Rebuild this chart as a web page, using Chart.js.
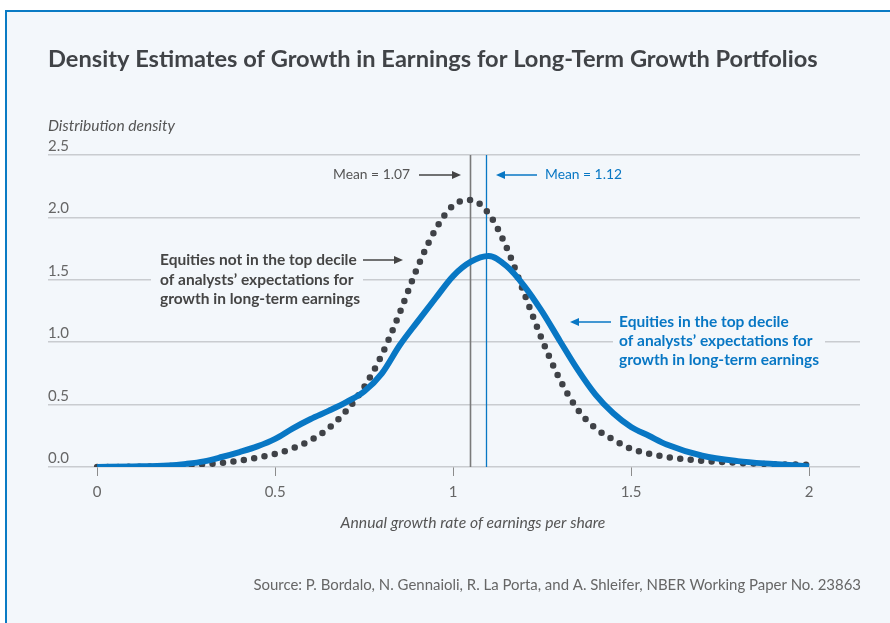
<!DOCTYPE html>
<html>
<head>
<meta charset="utf-8">
<script src="https://cdn.jsdelivr.net/npm/chart.js@4.4.0/dist/chart.umd.min.js"></script>
<style>
  body { margin: 0; background: #ffffff; overflow: hidden; }
  #panel {
    position: absolute; left: 5px; top: 10px; width: 900px; height: 700px;
    background: #f3f7fb; border-top: 2px solid #0a7bc4; border-left: 2px solid #0a7bc4;
  }
  #miGrafico { position: absolute; left: 0; top: 0; }
</style>
</head>
<body>
<div id="panel"></div>
<canvas id="miGrafico" width="890" height="623"></canvas>
<script>
// datos
var growth = [0, 0.1, 0.2, 0.25, 0.3, 0.35, 0.4, 0.45, 0.5, 0.55, 0.6, 0.65, 0.7, 0.75, 0.8, 0.85, 0.9, 0.95,
  1.0, 1.05, 1.1, 1.15, 1.2, 1.25, 1.3, 1.35, 1.4, 1.45, 1.5, 1.55, 1.6, 1.7, 1.8, 1.9, 2.0];
var topDecile = [0, 0.004, 0.012, 0.025, 0.045, 0.08, 0.12, 0.165, 0.225, 0.31, 0.385, 0.45, 0.52, 0.605, 0.75, 0.975, 1.165, 1.35,
  1.53, 1.645, 1.69, 1.61, 1.45, 1.245, 1.01, 0.78, 0.58, 0.43, 0.32, 0.25, 0.18, 0.09, 0.047, 0.024, 0.005];
var notTopDecile = [0, 0.002, 0.008, 0.013, 0.022, 0.033, 0.05, 0.075, 0.105, 0.15, 0.215, 0.31, 0.45, 0.64, 0.9, 1.235, 1.6, 1.9,
  2.095, 2.14, 2.03, 1.76, 1.39, 1.02, 0.7, 0.46, 0.31, 0.22, 0.145, 0.107, 0.08, 0.05, 0.033, 0.022, 0.018];
var xTicks = [0, 0.5, 1, 1.5, 2];
var yTicks = ['0.0', '0.5', '1.0', '1.5', '2.0', '2.5'];
var meanLines = [1.048, 1.091];   // posiciones de las lineas verticales
var meanLabels = ['Mean = 1.07', 'Mean = 1.12'];

var azul = '#0877c4';
var gris = '#3f4247';
var fuente = 'Lato, "Noto Sans", sans-serif';

function puntos(ys) {
  return growth.map(function (x, i) { return { x: x, y: ys[i] }; });
}

// texto ajustado a un ancho medido en la imagen
function tamano(ctx, text, width, style) {
  ctx.font = style + ' 100px ' + fuente;
  return 100 * width / ctx.measureText(text).width;
}
function texto(ctx, text, x, y, size, style, color, align) {
  ctx.font = style + ' ' + size + 'px ' + fuente;
  ctx.fillStyle = color;
  ctx.textAlign = align || 'left';
  ctx.textBaseline = 'middle';
  ctx.fillText(text, x, y);
}
function flecha(ctx, x1, x2, y, color) {
  var dir = x2 > x1 ? 1 : -1;
  ctx.strokeStyle = color; ctx.fillStyle = color; ctx.lineWidth = 1.3;
  ctx.beginPath(); ctx.moveTo(x1, y); ctx.lineTo(x2 - dir * 4, y); ctx.stroke();
  ctx.beginPath(); ctx.moveTo(x2, y); ctx.lineTo(x2 - dir * 9, y - 4); ctx.lineTo(x2 - dir * 9, y + 4); ctx.closePath(); ctx.fill();
}

var anotaciones = {
  id: 'anotaciones',
  beforeDatasetsDraw: function (chart) {
    var ctx = chart.ctx, xs = chart.scales.x, ys = chart.scales.y, area = chart.chartArea;
    ctx.save();
    // cajas que tapan la reticula detras de los textos
    ctx.fillStyle = '#f3f7fb';
    ctx.fillRect(151, 250, 212, 58);
    ctx.fillRect(613, 312, 212, 58);

    // etiquetas del eje y
    yTicks.forEach(function (t) {
      var py = ys.getPixelForValue(parseFloat(t));
      ctx.font = '15px ' + fuente;
      ctx.fillStyle = '#666';
      ctx.textAlign = 'left';
      ctx.textBaseline = 'alphabetic';
      ctx.fillText(t, 48, py - 4);
    });

    // lineas de la media
    var colores = ['#7a7a7a', azul];
    meanLines.forEach(function (m, i) {
      var px = Math.round(xs.getPixelForValue(m)) + 0.5;
      ctx.strokeStyle = colores[i];
      ctx.lineWidth = i === 0 ? 1.6 : 1.3;
      ctx.beginPath(); ctx.moveTo(px, area.top); ctx.lineTo(px, area.bottom); ctx.stroke();
    });

    var s1 = tamano(ctx, meanLabels[0], 77, 'normal');
    texto(ctx, meanLabels[0], 410, 175, s1, 'normal', '#555', 'right');
    flecha(ctx, 419, 461, 175, '#444');
    texto(ctx, meanLabels[1], 545, 175, s1, 'normal', azul, 'left');
    flecha(ctx, 537, 496, 175, azul);

    var izq = ['Equities not in the top decile', 'of analysts\u2019 expectations for', 'growth in long-term earnings'];
    var s2 = tamano(ctx, izq[2], 200, 'bold');
    texto(ctx, izq[0], 160, 260, s2, 'bold', '#454545');
    texto(ctx, izq[1], 160, 279.5, s2, 'bold', '#454545');
    texto(ctx, izq[2], 160, 299, s2, 'bold', '#454545');
    flecha(ctx, 363, 403, 260, '#444');

    texto(ctx, 'Equities in the top decile', 619, 322, s2, 'bold', azul);
    texto(ctx, izq[1], 619, 341, s2, 'bold', azul);
    texto(ctx, izq[2], 619, 360, s2, 'bold', azul);
    flecha(ctx, 611, 570, 322, azul);
    ctx.restore();
  },
  afterDraw: function (chart) {
    var ctx = chart.ctx;
    ctx.save();
    var titulo = 'Density Estimates of Growth in Earnings for Long-Term Growth Portfolios';
    texto(ctx, titulo, 48, 59, tamano(ctx, titulo, 770, 'bold'), 'bold', '#404347');
    texto(ctx, 'Distribution density', 48, 126, tamano(ctx, 'Distribution density', 127, 'italic'), 'italic', '#555');
    var ejeX = 'Annual growth rate of earnings per share';
    texto(ctx, ejeX, 473, 523, tamano(ctx, ejeX, 265, 'italic'), 'italic', '#555', 'center');
    var fuenteTxt = 'Source: P. Bordalo, N. Gennaioli, R. La Porta, and A. Shleifer, NBER Working Paper No. 23863';
    texto(ctx, fuenteTxt, 861, 585, tamano(ctx, fuenteTxt, 608, 'normal'), 'normal', '#666', 'right');
    ctx.restore();
  }
};

var canvas = document.getElementById('miGrafico');
var grafico = new Chart(canvas, {
  type: 'line',
  data: {
    datasets: [{
      label: 'Top decile',
      data: puntos(topDecile),
      borderColor: azul,
      borderWidth: 6,
      pointRadius: 0,
      cubicInterpolationMode: 'monotone',
      order: 1
    }, {
      label: 'Not top decile',
      data: puntos(notTopDecile),
      borderColor: gris,
      borderWidth: 6.5,
      borderDash: [0, 10.5],
      borderCapStyle: 'round',
      pointRadius: 0,
      cubicInterpolationMode: 'monotone',
      order: 2
    }]
  },
  options: {
    responsive: false,
    animation: false,
    layout: { padding: { left: 48, right: 30, top: 155, bottom: 116 } },
    plugins: { legend: { display: false }, tooltip: { enabled: false } },
    scales: {
      x: {
        type: 'linear',
        min: -0.138,
        max: 2.143,
        afterBuildTicks: function (scale) {
          scale.ticks = xTicks.map(function (v) { return { value: v }; });
        },
        afterFit: function (scale) { scale.height = 40; },
        grid: { drawOnChartArea: false, tickLength: 9, color: '#8c8c8c', lineWidth: 1 },
        border: { display: false },
        ticks: {
          padding: 7,
          color: '#666',
          font: { family: fuente, size: 15 },
          callback: function (v) { return String(v); }
        }
      },
      y: {
        min: 0,
        max: 2.5,
        ticks: { display: false, stepSize: 0.5 },
        afterFit: function (scale) { scale.width = 0; },
        grid: { color: '#c9ccd0', lineWidth: 1.5, drawTicks: false },
        border: { display: false }
      }
    }
  },
  plugins: [anotaciones]
});
</script>
</body>
</html>
